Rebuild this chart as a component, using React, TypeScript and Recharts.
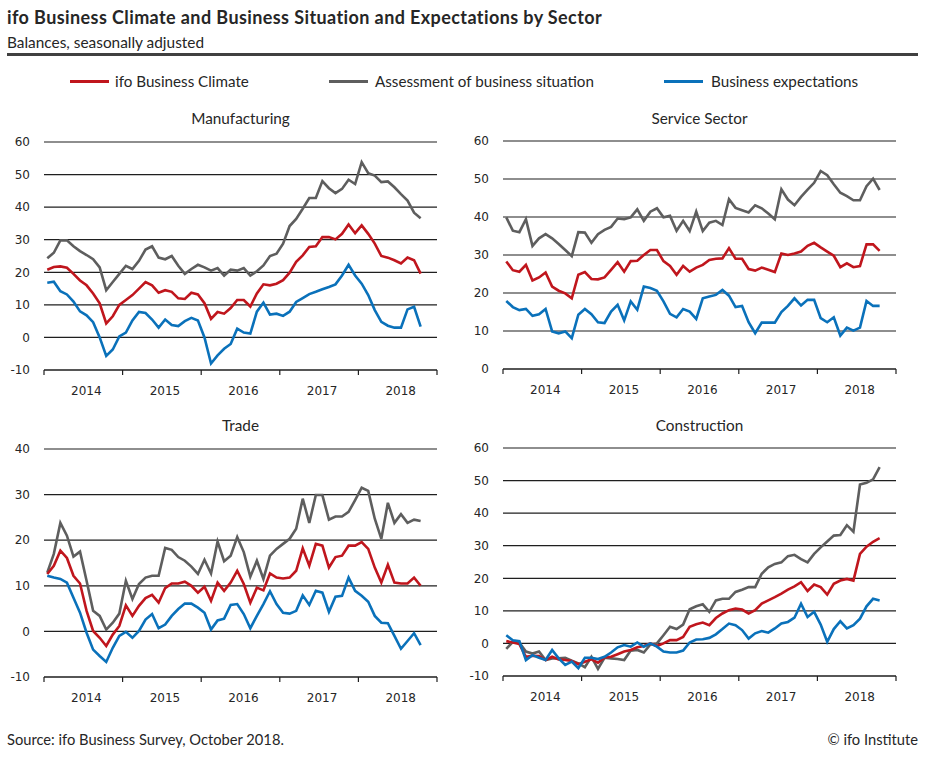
import React from 'react';
import { LineChart, Line, XAxis, YAxis, CartesianGrid } from 'recharts';

const YEARS = ['2014', '2015', '2016', '2017', '2018'];
const YEAR_TICKS = [0, 12, 24, 36, 48, 60];

const SERIES_NAMES = ['ifo Business Climate', 'Assessment of business situation', 'Business expectations'];
const COLORS = ['#C0161D', '#5E5E5E', '#0A71BA'];

// Monthly values, Jan 2014 - Oct 2018
const MFG_CLIMATE = [20.8, 21.6, 21.8, 21.4, 19.5, 17.5, 16, 13.5, 10.5, 4.3,
  6.5, 10, 11.5, 13, 15, 17, 16, 13.7, 14.5, 14,
  12, 11.8, 13.7, 13.2, 10.5, 5.7, 7.8, 7.3, 9, 11.5,
  11.5, 9.5, 13.5, 16.3, 16, 16.5, 17.6, 19.9, 23.2, 25.2,
  27.8, 28, 30.8, 30.8, 30.1, 31.8, 34.7, 32, 34.4, 31.8,
  28.8, 25, 24.5, 23.7, 22.7, 24.5, 23.7, 19.6];
const MFG_SITUATION = [24.3, 26, 29.8, 29.8, 28, 26.5, 25.3, 24, 21.5, 14.5,
  17, 19.5, 22, 21, 23.5, 27, 28, 24.5, 24, 25,
  22, 19.5, 21, 22.3, 21.5, 20.5, 21.3, 19, 20.8, 20.5,
  21.3, 19, 20.3, 22.1, 25, 25.7, 28.8, 34.2, 36.4, 39.5,
  42.8, 42.8, 48, 45.8, 44.3, 45.6, 48.4, 47.1, 53.8, 50.4,
  49.7, 47.7, 47.9, 46.1, 44, 42, 38.3, 36.6];
const MFG_EXPECT = [16.8, 17.1, 14.2, 13.2, 11, 8, 6.8, 4.7, 0, -5.7,
  -3.7, 0.3, 1.5, 5.2, 7.8, 7.5, 5.5, 3, 5.5, 3.8,
  3.5, 5, 6, 5.2, 0, -8, -5.5, -3.5, -2, 2.7,
  1.5, 1.2, 7.9, 10.7, 7, 7.3, 6.6, 7.9, 10.9, 12.1,
  13.3, 14, 14.8, 15.5, 16.3, 19, 22.3, 19, 16.5, 13,
  8.4, 4.8, 3.6, 3, 3, 8.6, 9.4, 3.3];

const SVC_CLIMATE = [28.3, 26, 25.6, 27.4, 23.3, 24.1, 25.4, 21.7, 20.6, 19.9,
  18.6, 24.8, 25.5, 23.7, 23.6, 24.1, 26.1, 28.1, 25.6, 28.4,
  28.5, 30, 31.3, 31.3, 28.4, 27.1, 24.8, 27.1, 25.6, 26.7,
  27.4, 28.7, 29, 29.1, 31.8, 29, 29, 26.3, 25.9, 26.7,
  26.1, 25.5, 30.4, 30, 30.4, 30.9, 32.4, 33.2, 32, 30.9,
  29.8, 26.8, 27.8, 26.8, 27.1, 32.8, 32.8, 31.1];
const SVC_SITUATION = [39.9, 36.4, 36, 39.4, 32.4, 34.4, 35.5, 34.4, 32.9, 31.3,
  29.7, 36, 35.9, 33.2, 35.5, 36.6, 37.4, 39.6, 39.4, 39.9,
  42, 39, 41.4, 42.3, 39.9, 40.3, 36.4, 39, 36.3, 41.4,
  36.3, 38.5, 39, 37.9, 44.7, 42.4, 41.8, 41.2, 43.1, 42.3,
  40.9, 39.4, 47.3, 44.6, 43.1, 45.3, 47.2, 49, 52.1, 51,
  48.6, 46.4, 45.5, 44.4, 44.4, 48.1, 50.1, 47.1];
const SVC_EXPECT = [17.9, 16.3, 15.5, 15.8, 14, 14.4, 15.8, 9.9, 9.4, 9.9,
  8.1, 14.3, 15.8, 14.4, 12.3, 12.1, 15.1, 16.9, 12.8, 17.8,
  15.6, 21.7, 21.3, 20.6, 17.8, 14.5, 13.6, 15.8, 15.1, 13.2,
  18.6, 19.1, 19.5, 20.8, 19.3, 16.3, 16.6, 12.3, 9.4, 12.2,
  12.2, 12.2, 15, 16.6, 18.6, 16.7, 18.2, 18.2, 13.4, 12.3,
  13.6, 8.8, 10.9, 10.1, 10.9, 17.9, 16.6, 16.6];

const TRADE_CLIMATE = [12.6, 14.4, 17.7, 16.1, 12.2, 10.5, 4.5, 0.1, -1.4, -3.2,
  -0.7, 1.2, 5.7, 3.4, 5.6, 7.3, 8, 6.3, 9.5, 10.5,
  10.5, 10.9, 10, 8.5, 9.8, 6.7, 10.7, 8.9, 10.7, 13.3,
  10.4, 6.3, 9.6, 9, 12.7, 11.8, 11.6, 11.8, 13.3, 18.2,
  14.4, 19.2, 18.8, 14, 16.3, 16.6, 18.8, 18.8, 19.6, 18.1,
  14, 10.7, 14.6, 10.7, 10.5, 10.5, 11.8, 10];
const TRADE_SITUATION = [12.9, 17, 23.8, 21, 16.4, 17.5, 11.1, 4.5, 3.4, 0.4,
  1.9, 3.9, 11.1, 7.1, 10.4, 11.8, 12.2, 12.2, 18.3, 17.9,
  16.3, 15.5, 14.2, 12.6, 15.7, 12.7, 19.7, 15.4, 16.6, 20.7,
  17.4, 12, 15.5, 11.5, 16.6, 18.1, 19.2, 20.3, 22.5, 29.1,
  23.8, 29.9, 29.9, 24.5, 25.2, 25.2, 26.2, 28.8, 31.5, 30.8,
  24.7, 20.3, 28.2, 23.8, 25.7, 23.8, 24.5, 24.2];
const TRADE_EXPECT = [12.2, 11.8, 11.5, 10.7, 7.4, 4.1, -0.3, -4, -5.4, -6.7,
  -3.6, -1, -0.1, -1.4, 0.1, 2.6, 3.8, 0.7, 1.5, 3.4,
  4.9, 6.1, 6.1, 5.2, 4.1, 0.4, 2.4, 2.8, 5.8, 6,
  3.8, 0.7, 3.4, 6, 8.8, 6, 4.1, 3.9, 4.5, 7.9,
  5.8, 8.9, 8.5, 4.3, 7.6, 7.8, 11.8, 8.9, 7.8, 6.5,
  3.4, 1.9, 1.8, -1, -3.8, -2.1, -0.4, -3];

const CONS_CLIMATE = [0.7, 0.3, -0.2, -4.1, -3.8, -3.9, -5.1, -4.1, -4.9, -5.1,
  -5.4, -6.4, -5.6, -4.9, -5.9, -4.3, -4.1, -3.3, -2.5, -2,
  -1.2, -0.8, 0, -0.8, 0, 1, 1, 2, 5.1, 5.9,
  6.4, 5.6, 7.8, 9.2, 10.2, 10.7, 10.4, 9.2, 10.2, 12.2,
  13.2, 14.2, 15.3, 16.5, 17.5, 18.8, 16.1, 18.1, 17.3, 15,
  18.3, 19.3, 19.8, 19.3, 27.5, 29.7, 31.2, 32.3];
const CONS_SITUATION = [-1.7, 0.5, 0.2, -2.5, -3.1, -2.5, -5.1, -4.6, -4.6, -4.4,
  -5.3, -6.1, -7.3, -4.1, -7.8, -4.4, -4.6, -4.8, -5.1, -2.2,
  -2, -2.8, -0.3, 0, 2.5, 5.1, 4.4, 5.8, 10.5, 11.4,
  12, 9.7, 13.2, 13.7, 13.7, 15.8, 16.5, 17.3, 17.3, 21.4,
  23.4, 24.4, 24.9, 26.8, 27.2, 25.9, 24.9, 27.5, 29.5, 31.3,
  33.1, 33.3, 36.3, 34.3, 48.8, 49.3, 50.4, 54.1];
const CONS_EXPECT = [2.5, 1, 0.7, -5.1, -3.6, -4.4, -5.1, -2, -4.6, -6.6,
  -5.6, -7.6, -4.4, -4.4, -4.8, -4.1, -2.8, -1.2, -0.5, -1,
  0.3, -1, 0, -1, -2.5, -2.8, -2.8, -2.2, 0.3, 1.2,
  1.3, 1.7, 2.8, 4.4, 6.1, 5.6, 4.1, 1.5, 3.1, 3.8,
  3.3, 4.6, 6.1, 6.6, 7.9, 12.2, 8.1, 9.7, 5.8, 0.5,
  4.4, 6.8, 4.6, 5.6, 7.6, 11.4, 13.7, 13.2];

const TICKS_M10_60 = [-10, 0, 10, 20, 30, 40, 50, 60];
const TICKS_0_60 = [0, 10, 20, 30, 40, 50, 60];
const TICKS_M10_40 = [-10, 0, 10, 20, 30, 40];

const TEXT_FONT = 'Lato, "Noto Sans", sans-serif';
const TICK_FONT = '"DejaVu Sans", Verdana, sans-serif';
const AXIS_W = 36;
const PLOT_W = 393;
const CHART_W = AXIS_W + PLOT_W + 8;
const PLOT_H = 228;
const TOP_M = 10;
const XAXIS_H = 30;

function YearTick(props: any) {
  const { x, y, payload } = props;
  const idx = YEAR_TICKS.indexOf(payload.value);
  if (idx < 0 || idx >= YEARS.length) return null;
  const half = PLOT_W / 10;
  return (
    <text x={x + half + 3} y={y + 18} textAnchor="middle" fontSize={12} fill="#262626" fontFamily={TICK_FONT}>
      {YEARS[idx]}
    </text>
  );
}

type PanelProps = {
  left: number;
  plotTop: number;
  titleY: number;
  title: string;
  yTicks: number[];
  climate: number[];
  situation: number[];
  expectations: number[];
};

function Panel({ left, plotTop, titleY, title, yTicks, climate, situation, expectations }: PanelProps) {
  const rows = climate.map((c, i) => ({
    t: i + 0.5,
    climate: c,
    situation: situation[i],
    expectations: expectations[i],
  }));
  return (
    <>
      <div
        style={{
          position: 'absolute',
          left: left + AXIS_W,
          width: PLOT_W,
          top: titleY - 10,
          height: 20,
          lineHeight: '20px',
          textAlign: 'center',
          fontFamily: TEXT_FONT,
          fontSize: 15.3,
          color: '#262626',
        }}
      >
        {title}
      </div>
      <div style={{ position: 'absolute', left, top: plotTop - TOP_M }}>
        <LineChart
          width={CHART_W}
          height={TOP_M + PLOT_H + XAXIS_H}
          data={rows}
          margin={{ top: TOP_M, right: 8, bottom: 0, left: 0 }}
        >
          <CartesianGrid vertical={false} stroke="#1f1f1f" strokeWidth={1.2} />
          <XAxis
            type="number"
            dataKey="t"
            domain={[0, 60]}
            ticks={YEAR_TICKS}
            interval={0}
            tickSize={5}
            height={XAXIS_H}
            tick={<YearTick />}
            axisLine={{ stroke: '#1f1f1f', strokeWidth: 1.2 }}
            tickLine={{ stroke: '#1f1f1f', strokeWidth: 1.2 }}
          />
          <YAxis
            type="number"
            domain={[yTicks[0], yTicks[yTicks.length - 1]]}
            ticks={yTicks}
            interval={0}
            width={AXIS_W}
            axisLine={false}
            tickLine={false}
            tickMargin={8}
            tick={{ fontSize: 12, fill: '#262626', fontFamily: TICK_FONT }}
          />
          <Line type="linear" dataKey="situation" stroke={COLORS[1]} strokeWidth={2.6} dot={false} isAnimationActive={false} />
          <Line type="linear" dataKey="climate" stroke={COLORS[0]} strokeWidth={2.6} dot={false} isAnimationActive={false} />
          <Line type="linear" dataKey="expectations" stroke={COLORS[2]} strokeWidth={2.6} dot={false} isAnimationActive={false} />
        </LineChart>
      </div>
    </>
  );
}

const LEGEND_POS = [
  { line: 70, text: 115 },
  { line: 329, text: 375 },
  { line: 664, text: 711 },
];

export default function App() {
  return (
    <div
      style={{
        position: 'absolute',
        left: 0,
        top: 0,
        width: 945,
        height: 769,
        background: '#fff',
        fontFamily: TEXT_FONT,
        color: '#262626',
        overflow: 'hidden',
      }}
    >
      <div style={{ position: 'absolute', left: 7, top: 6, height: 22, lineHeight: '22px', fontSize: 18, fontWeight: 700, letterSpacing: 0.4, whiteSpace: 'nowrap' }}>
        ifo Business Climate and Business Situation and Expectations by Sector
      </div>
      <div style={{ position: 'absolute', left: 7, top: 32, height: 20, lineHeight: '20px', fontSize: 15.4, whiteSpace: 'nowrap' }}>
        Balances, seasonally adjusted
      </div>
      <div style={{ position: 'absolute', left: 7, top: 53, width: 911, height: 2.5, background: '#404040' }} />

      {SERIES_NAMES.map((name, i) => (
        <React.Fragment key={name}>
          <div
            style={{
              position: 'absolute',
              left: LEGEND_POS[i].line,
              top: 80,
              width: 39,
              height: 3,
              background: COLORS[i],
            }}
          />
          <div
            style={{
              position: 'absolute',
              left: LEGEND_POS[i].text,
              top: 71,
              height: 20,
              lineHeight: '20px',
              fontSize: 15.2,
              whiteSpace: 'nowrap',
            }}
          >
            {name}
          </div>
        </React.Fragment>
      ))}

      <Panel left={8} plotTop={142} titleY={118} title="Manufacturing" yTicks={TICKS_M10_60}
        climate={MFG_CLIMATE} situation={MFG_SITUATION} expectations={MFG_EXPECT} />
      <Panel left={467} plotTop={141} titleY={118} title="Service Sector" yTicks={TICKS_0_60}
        climate={SVC_CLIMATE} situation={SVC_SITUATION} expectations={SVC_EXPECT} />
      <Panel left={8} plotTop={449} titleY={425} title="Trade" yTicks={TICKS_M10_40}
        climate={TRADE_CLIMATE} situation={TRADE_SITUATION} expectations={TRADE_EXPECT} />
      <Panel left={467} plotTop={448} titleY={425} title="Construction" yTicks={TICKS_M10_60}
        climate={CONS_CLIMATE} situation={CONS_SITUATION} expectations={CONS_EXPECT} />

      <div style={{ position: 'absolute', left: 7, top: 729, height: 20, lineHeight: '20px', fontSize: 14.7, whiteSpace: 'nowrap' }}>
        Source: ifo Business Survey, October 2018.
      </div>
      <div style={{ position: 'absolute', right: 27, top: 729, height: 20, lineHeight: '20px', fontSize: 14.7, whiteSpace: 'nowrap' }}>
        © ifo Institute
      </div>
    </div>
  );
}
